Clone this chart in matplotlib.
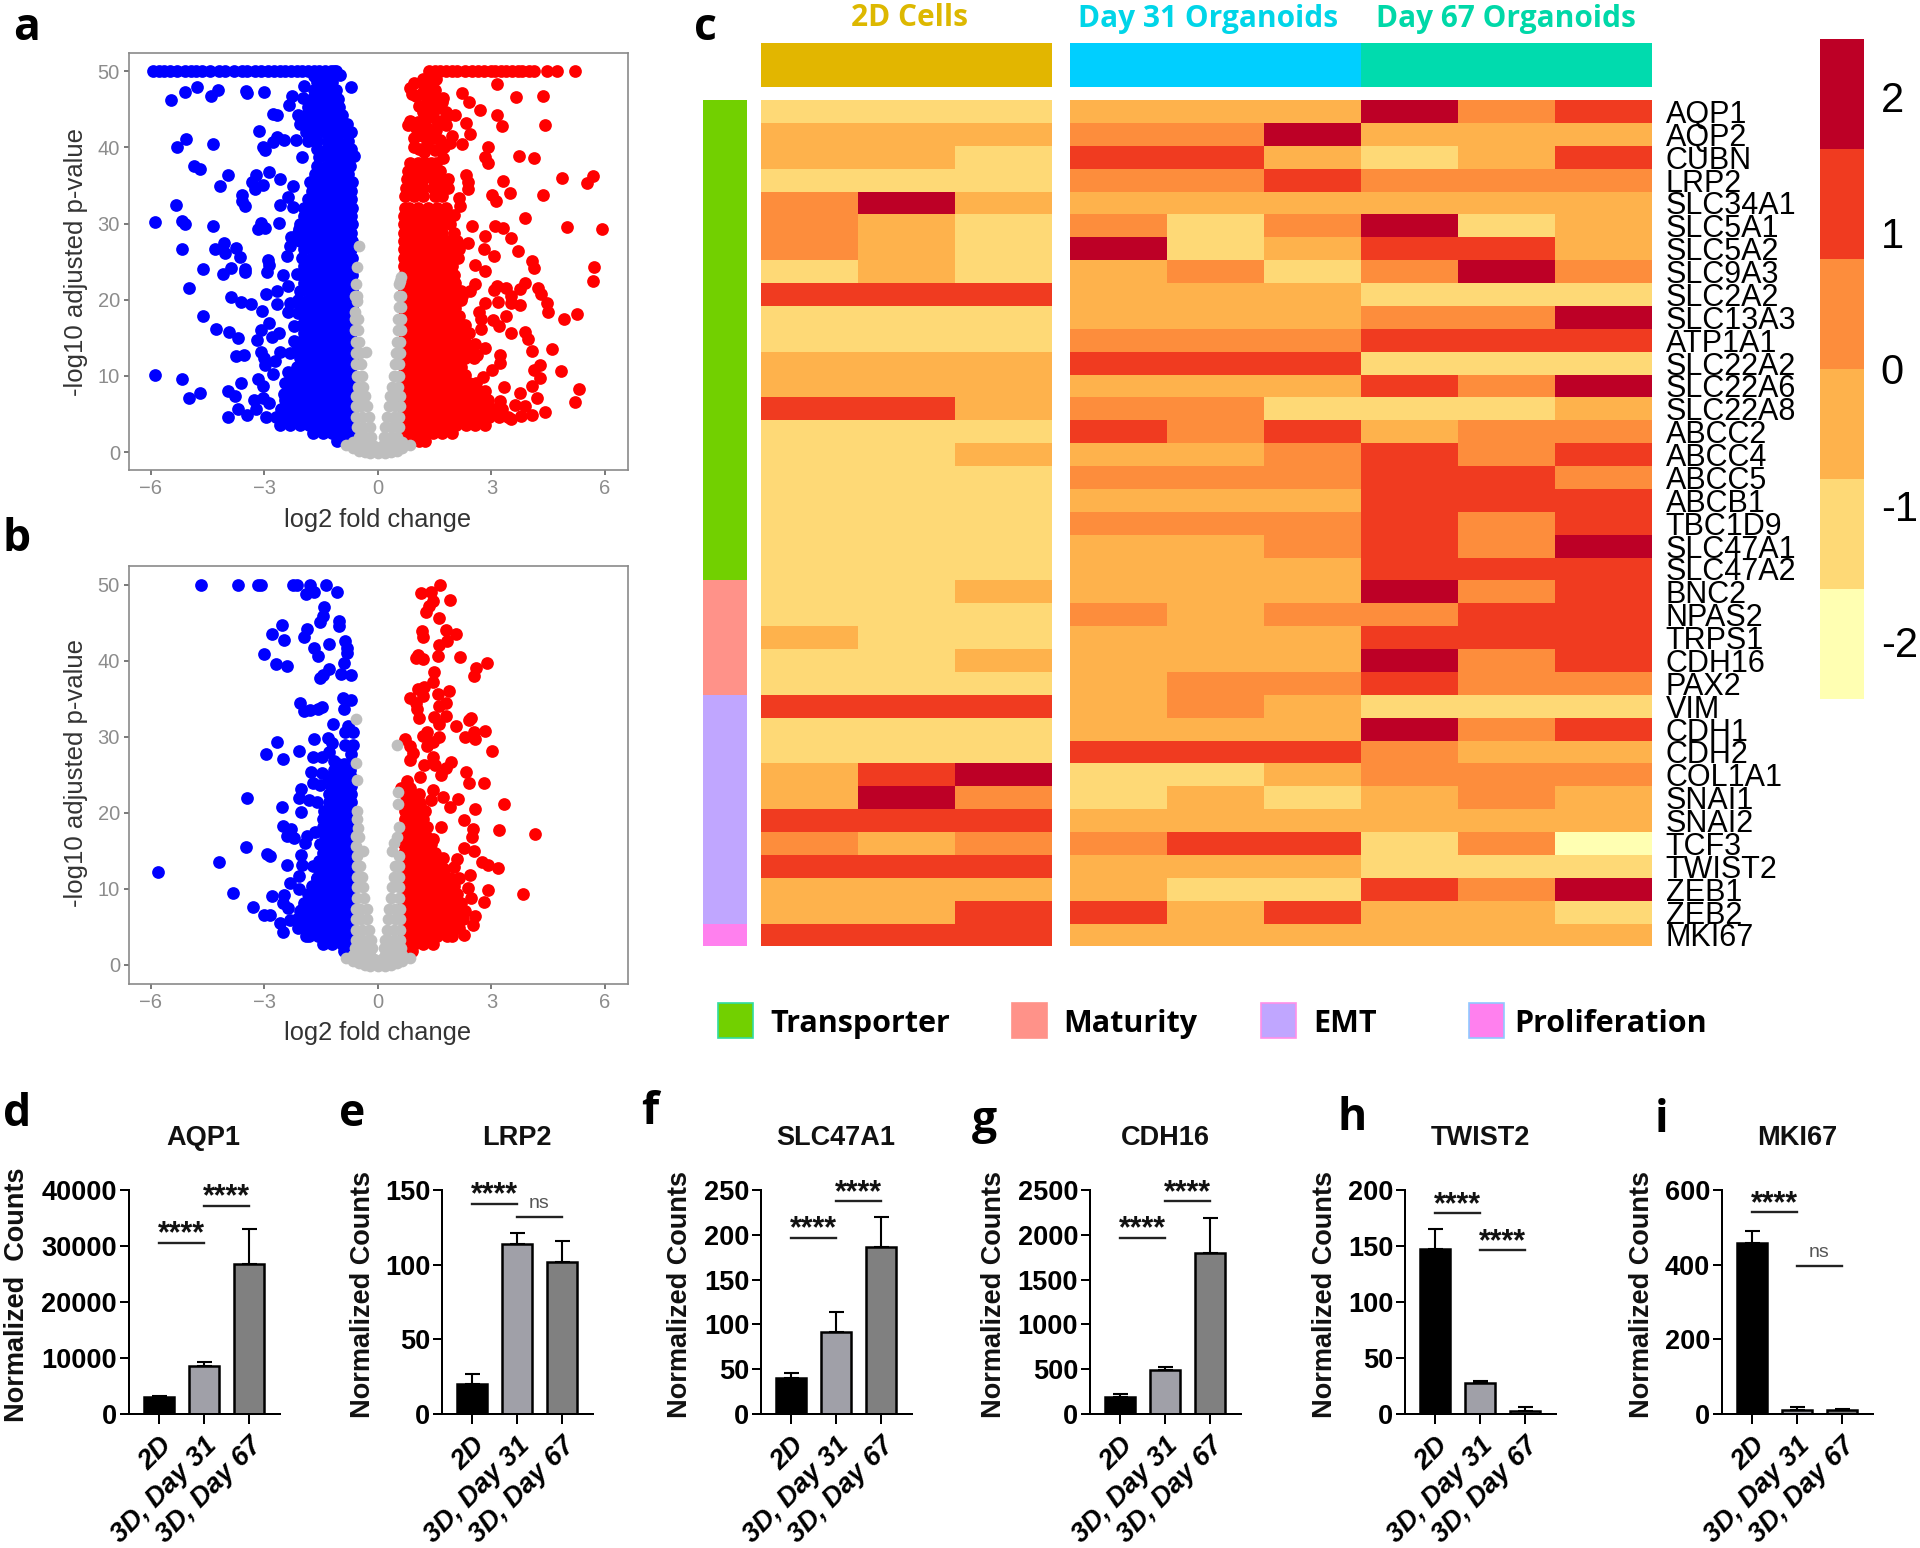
import numpy as np
import matplotlib
matplotlib.use("Agg")
import matplotlib.pyplot as plt
from matplotlib.colors import ListedColormap, BoundaryNorm
from matplotlib.cm import ScalarMappable
from matplotlib.patches import Rectangle

W, H = 1920, 1548
SANS = "Liberation Sans"
UI = "Open Sans"

# ---------------- volcano a ----------------
a_blue_top = [-5.95,-5.8,-5.65,-5.5,-5.3,-5.1,-4.95,-4.8,-4.65,-4.45,-4.2,-4.05,-3.8,-3.6,-3.45,-3.25,-3.1,-2.9,-2.75,-2.6,-2.45,-2.3,-2.15,-2.0,-1.85,-1.7,-1.55,-1.4,-1.25,-1.15,-1.1]
a_red_top = [1.35,1.5,1.65,1.8,1.95,2.1,2.3,2.5,2.65,2.8,3.0,3.1,3.25,3.4,3.55,3.7,3.8,3.99,4.14,4.46,4.73,5.21]
a_blue_x = [-1.0,-5.88,-5.88,-5.47,-5.09,-4.79,-4.42,-4.24,-3.49,-3.46,-3.01,-2.27,-2.36,-1.99,-1.94,-.71,-2.77,-2.66,-3.14,-3.04,-2.99,-2.77,-2.68,-2.49,-2.16,-2.01,-.63,-5.07,-5.31,-4.36,-4.87,-4.69,-3.97,-4.17,-5.34,-5.17,-5.09,-4.36,-3.59,-3.6,-3.51,-3.23,-2.87,-3.32,-3.26,-3.04,-2.6,-2.24,-2.38,-2.6,-2.24,-2.61,-3.1,-3.18,-2.99,-2.08,-2.3,-2.32,-5.18,-4.06,-4.3,-4.04,-3.74,-3.64,-2.39,-2.9,-2.88,-2.92,-4.62,-3.88,-4.1,-3.5,-3.52,-2.52,-2.14,-5,-2.66,-2.97,-2.38,-3.88,-3.62,-3.36,-2.66,-2.32,-3.07,-4.62,-2.38,-2.12,-2.21,-2.88,-3.1,-4.29,-3.93,-3.71,-3.19,-2.61,-2.79,-2.21,-3.08,-3.74,-3.54,-3.01,-2.6,-2.32,-2.99,-2.71,-2.37,-5.17,-3.61,-3.16,-3.04,-2.77,-2.37,-4.7,-5,-3.96,-3.79,-3.27,-3.04,-2.88,-2.49,-2.43,-3.7,-3.96,-3.46,-3.21]
a_blue_y = [49.5,30.2,10.1,46.2,47.3,48,46.8,47.5,47.4,47.1,47.3,46.8,45.6,46.5,48.1,48,44.4,44.2,42.1,40.1,39.7,40.7,41.4,41,41,38.7,38.9,41.1,40,40.4,37.5,37.2,36.4,35,32.4,30.4,30,29.7,33.7,33,32.3,36.4,36.8,35.4,34.6,35.1,35.9,34.9,33.5,32.5,32.2,30.1,30.1,29.3,29.4,29.3,28.3,27.1,26.6,27.5,26.6,26.2,26.8,25.6,25.7,25.2,24.5,23.7,24,24.2,23.4,24.1,23.6,23.2,23.4,21.6,21.2,20.7,21.8,20.4,19.7,19.5,19.4,19.6,18.5,17.9,18.4,18.2,16.6,16.9,16,16.1,15.8,15,14.7,15.6,15.1,14.6,13.2,12.6,12.7,12.3,13.2,13,11.4,11.9,10.5,9.6,9.1,9.6,8.7,10.3,9.2,7.8,7.1,8,7.4,6.8,7.1,6.5,7.6,6.5,5.7,4.6,4.9,5.6]
a_red_x = [3.14,.96,1.18,.84,1.01,1.34,2.23,2.4,3.64,4.37,1.73,1.57,2.7,3.16,1.18,1.46,1.79,2.03,4.42,3.27,.84,.79,1.07,1.57,1.81,2.34,2.43,1.96,1.12,1.46,.96,1.92,2.23,2.9,1.21,2.84,2.9,3.73,4.12,1.73,4.88,5.7,5.52,2.34,2.37,2.37,3.3,3.01,3.12,3.49,4.36,2.14,2.18,3.9,2,5.01,5.93,2.5,3.09,3.31,2.84,3.53,2.38,2.81,3.71,3.07,4.07,2.12,2.57,2.84,4.12,5.71,5.7,3.88,2.57,3.16,3.38,3.07,3.76,4.23,4.32,2.23,3.51,2.43,4.48,2.84,3.18,3.76,3.51,4.49,5.27,4.93,2.68,2.73,3.04,3.4,3.2,2.73,3.51,3.9,3.96,4.07,4.6,3.23,2.84,2.57,2.62,3.23,4.29,4.12,4.84,4.29,3.01,2.79,2.51,4.07,5.31,3.34,2.84,3.76,4.21,5.2,3.62,3.9,3.23,4.42,4.07,3.79,3.51,3.29,.9,1.15,1.3,1.5,1.1,1.35,1.6,1.45,1.7,1.25,1.0,1.3,1.55,1.2,.95,1.65,1.3,1.1,1.5,1.75,1.4,1.55,1.35,1.2,1.45,1.25,1.8,1.7]
a_red_y = [48.3,48.5,48.3,47.8,46.7,47.4,47.2,46,46.6,46.8,46.5,46,44.9,44.2,44.7,44.9,44.7,44.2,43,42.8,43.5,42.9,43.3,43.5,42.9,43.2,41.7,41.5,42,41.3,40.1,40.6,40.4,40.1,39.4,38.8,37.9,38.9,38.6,38.6,36,36.3,35.3,36.4,35.4,34.5,35.6,33.7,32.9,34,33.7,33.4,32.3,30.7,31.1,29.5,29.3,29.7,29.7,29.4,28.4,28.1,27.5,26.6,26.4,25.8,25.1,25.5,24.5,23.8,24.2,24.3,22.4,22.2,22.1,21.8,21.6,21.3,21.4,21.5,20.8,20.5,20.5,21.2,19.6,19.6,19.7,19.3,19.6,18.4,18.1,17.5,18.4,17.5,17.3,17.8,16.6,16.1,15.6,15.7,14.8,13.3,13.5,12.8,13.7,14.2,12.8,11.7,11.4,10.8,10.6,9.7,10.8,9.9,8.5,8.7,8.3,8.5,8,7.8,7.1,6.6,6.2,6,6.7,5.2,4.9,4.7,4.4,5.6,47,47,46,47.5,45.5,45,45.2,44,43.5,43.6,42.5,42.6,42.3,41.5,41.3,41,40.5,39.8,39.6,40,48.5,49,49.3,49,47,48.5,44,46]

# dense clouds, read row by row: (y, [x, x, ...])
a_blue_core = [
 (1.5,[-.9,-1.08]),
 (2.5,[-.76,-.95,-1.2,-1.45,-1.72]),
 (3.5,[-.72,-.82,-1.07,-1.32,-1.57,-1.82,-2.07,-2.32,-2.6]),
 (4.6,[-.7,-.95,-1.2,-1.45,-1.7,-1.95,-2.2,-2.45,-2.7,-2.95]),
 (5.7,[-.68,-.82,-1.07,-1.32,-1.57,-1.82,-2.07,-2.32,-2.57]),
 (6.8,[-.7,-.95,-1.2,-1.45,-1.7,-1.95,-2.2,-2.45]),
 (7.9,[-.68,-.82,-1.07,-1.32,-1.57,-1.82,-2.07,-2.32]),
 (9.0,[-.7,-.95,-1.2,-1.45,-1.7,-1.95,-2.2,-2.45]),
 (10.1,[-.68,-.82,-1.07,-1.32,-1.57,-1.82,-2.0,-2.25]),
 (11.2,[-.7,-.95,-1.2,-1.45,-1.7,-1.9,-2.15]),
 (12.3,[-.68,-.82,-1.07,-1.32,-1.57,-1.82,-2.07]),
 (13.4,[-.7,-.95,-1.2,-1.45,-1.7,-1.9,-2.15]),
 (14.5,[-.68,-.82,-1.07,-1.32,-1.57,-1.82,-2.07]),
 (15.6,[-.7,-.95,-1.2,-1.45,-1.7,-1.95]),
 (16.7,[-.68,-.82,-1.07,-1.32,-1.57,-1.78,-2.0]),
 (17.8,[-.7,-.95,-1.2,-1.45,-1.7,-1.95]),
 (18.9,[-.68,-.82,-1.07,-1.32,-1.57,-1.8,-2.05]),
 (20.0,[-.7,-.95,-1.2,-1.45,-1.7,-1.85,-2.1]),
 (21.1,[-.68,-.82,-1.07,-1.32,-1.57,-1.8,-2.05]),
 (22.2,[-.7,-.95,-1.2,-1.45,-1.7,-1.95]),
 (23.3,[-.68,-.82,-1.07,-1.32,-1.57,-1.8,-2.0]),
 (24.4,[-.7,-.95,-1.2,-1.45,-1.7,-1.95]),
 (25.5,[-.68,-.82,-1.07,-1.32,-1.57,-1.75,-2.0]),
 (26.6,[-.7,-.95,-1.2,-1.45,-1.7,-1.95]),
 (27.7,[-.68,-.82,-1.07,-1.32,-1.57,-1.8,-2.05]),
 (28.8,[-.7,-.95,-1.2,-1.45,-1.7,-1.85,-2.1]),
 (29.9,[-.68,-.82,-1.07,-1.32,-1.57,-1.8,-2.05]),
 (31.0,[-.7,-.95,-1.2,-1.45,-1.7,-1.95]),
 (32.1,[-.68,-.82,-1.07,-1.32,-1.57,-1.75,-1.95]),
 (33.2,[-.7,-.95,-1.2,-1.45,-1.65,-1.85]),
 (34.3,[-.72,-.82,-1.07,-1.32,-1.5,-1.75]),
 (35.4,[-.68,-.95,-1.2,-1.45,-1.6,-1.8]),
 (36.5,[-.78,-1.07,-1.32,-1.45,-1.65]),
 (37.6,[-.75,-.95,-1.2,-1.35,-1.6]),
 (38.7,[-.78,-1.07,-1.3,-1.55]),
 (39.8,[-.7,-.95,-1.2,-1.35,-1.6]),
 (40.9,[-.8,-1.07,-1.32,-1.6,-1.85]),
 (42.0,[-.72,-.95,-1.2,-1.4,-1.65,-1.9]),
 (43.1,[-.82,-1.07,-1.32,-1.55,-1.8,-2.05]),
 (44.2,[-.95,-1.2,-1.45,-1.7,-1.9,-2.1]),
 (45.3,[-1.02,-1.25,-1.45,-1.65,-1.85]),
 (46.4,[-1.05,-1.3,-1.5,-1.75]),
 (47.5,[-1.12,-1.35,-1.55,-1.7]),
 (48.6,[-1.2,-1.4,-1.6]),
 (49.4,[-1.3,-1.55,-1.7]),
]
a_red_core = [
 (1.5,[.72,.9,1.1,1.25]),
 (2.5,[.7,.95,1.2,1.45,1.7,1.95]),
 (3.5,[.68,.82,1.07,1.32,1.57,1.82,2.07,2.32,2.57,2.82]),
 (4.6,[.7,.95,1.2,1.45,1.7,1.95,2.2,2.45,2.7,2.95,3.2,3.45]),
 (5.7,[.68,.82,1.07,1.32,1.57,1.82,2.07,2.32,2.57,2.82,3.07]),
 (6.8,[.7,.95,1.2,1.45,1.7,1.95,2.2,2.45,2.7,2.9]),
 (7.9,[.68,.82,1.07,1.32,1.57,1.82,2.07,2.32,2.55,2.75]),
 (9.0,[.7,.95,1.2,1.45,1.7,1.95,2.2,2.4,2.6]),
 (10.1,[.68,.82,1.07,1.32,1.57,1.82,2.05,2.3]),
 (11.2,[.7,.95,1.2,1.45,1.7,1.95,2.2]),
 (12.3,[.68,.82,1.07,1.32,1.57,1.82,2.07,2.3,2.55]),
 (13.4,[.7,.95,1.2,1.45,1.7,1.95,2.2,2.45]),
 (14.5,[.68,.82,1.07,1.32,1.57,1.82,2.07,2.3]),
 (15.6,[.7,.95,1.2,1.45,1.7,1.95,2.15,2.4]),
 (16.7,[.68,.82,1.07,1.32,1.57,1.82,2.0,2.3]),
 (17.8,[.7,.95,1.2,1.45,1.7,1.9,2.15]),
 (18.9,[.68,.82,1.07,1.32,1.57,1.8,2.05]),
 (20.0,[.7,.95,1.2,1.45,1.7,1.95,2.2]),
 (21.1,[.68,.82,1.07,1.32,1.57,1.82,2.0,2.2]),
 (22.2,[.7,.95,1.2,1.45,1.7,1.9,2.05]),
 (23.3,[.68,.82,1.07,1.32,1.57,1.8,2.0]),
 (24.4,[.7,.95,1.2,1.45,1.7,1.95]),
 (25.5,[.68,.82,1.07,1.32,1.57,1.8,2.05]),
 (26.6,[.7,.95,1.2,1.45,1.7,1.9,2.15]),
 (27.7,[.68,.82,1.07,1.32,1.57,1.85,2.1]),
 (28.8,[.7,.95,1.2,1.45,1.7,2.0]),
 (29.9,[.68,.82,1.07,1.32,1.57,1.7,1.9]),
 (31.0,[.7,.95,1.2,1.45,1.65,1.85]),
 (32.1,[.72,.82,1.07,1.32,1.57,1.8]),
 (33.6,[.72,.95,1.2,1.5,1.7]),
 (34.7,[.75,.95,1.2,1.45,1.65,1.85]),
 (35.8,[.78,1.0,1.2,1.45,1.65,1.85]),
 (36.9,[.8,1.0,1.2,1.4,1.65]),
 (38.0,[.85,1.05,1.25,1.4,1.55]),
]
a_gray_x = [-.85,-.65,-.5,-.35,-.2,0,.2,.35,.5,.65,.85,-.15,0,.15,-.5,-.35,-.2,-.1,.1,.2,.35,.5,-.65,-.5,-.35,-.2,.2,.35,.5,.65,-.5,-.35,-.17,.17,.35,.5,-.55,-.38,-.2,.2,.38,.55,-.57,-.42,-.24,.24,.42,.57,-.58,-.45,-.3,.3,.45,.58,-.58,-.47,-.33,.33,.47,.58,-.52,-.38,.38,.52,-.55,-.42,.42,.55,-.57,-.45,.45,.57,-.58,-.48,-.32,.48,.58,-.58,-.5,.5,.58,-.6,-.52,.52,.6,-.6,-.52,.52,.6,-.6,-.55,.55,.6,-.6,-.55,.55,.6,-.58,.56,.6,-.54,.58,-.49]
a_gray_y = [.9,.5,.2,0,-.1,-.1,-.1,0,.2,.5,.9,.3,.3,.3,.8,.8,.8,.8,.8,.8,.8,.8,1.3,1.3,1.3,1.3,1.3,1.3,1.3,1.3,2,2,2,2,2,2,3.3,3.3,3.3,3.3,3.3,3.3,4.6,4.6,4.6,4.6,4.6,4.6,6,6,6,6,6,6,7.3,7.3,7.3,7.3,7.3,7.3,8.6,8.6,8.6,8.6,10,10,10,10,11.5,11.5,11.5,11.5,13,13,13.2,13,13,14.5,14.5,14.5,14.5,16,16,16,16,17.5,17.5,17.5,17.5,18.4,19.8,19,19,20.5,20.5,20.5,20.5,22,22,23,24.3,22.5,27]

# ---------------- volcano b ----------------
b_blue_x = [-4.67,-3.7,-3.17,-3.08,-2.24,-2.13,-1.8,-1.37,-1.91,-1.68,-1.09,-1.43,-1.46,-1.54,-1.04,-1.02,-2.53,-2.79,-1.88,-1.94,-2.47,-.88,-1.29,-.82,-.82,-1.69,-1.58,-3,-2.69,-2.39,-.9,-1.29,-1.46,-1.54,-.97,-.71,-.93,-.71,-2.06,-1.94,-1.8,-1.58,-1.47,-.9,-1.19,-.79,-.66,-.88,-1.32,-1.68,-2.66,-1.21,-.88,-.66,-2.08,-2.97,-1.71,-1.49,-1.3,-.71,-2.52,-1.16,-1.77,-1.47,-1.32,-1.71,-1.54,-3.46,-2.02,-2.08,-1.82,-1.6,-2.54,-2.04,-1.43,-1.21,-2.52,-2.3,-2.41,-2.21,-1.88,-1.93,-1.66,-1.52,-3.49,-2.93,-2.86,-2.04,-4.19,-2.4,-2.01,-1.71,-5.82,-2.08,-1.62,-2.32,-2.08,-3.82,-2.79,-2.47,-2.52,-3.29,-3.02,-2.84,-2.38,-2.04,-2.58,-2.52,-2.32]
b_blue_y = [50,50,50,50,50,50,50,50,48.8,49.1,49.1,47.1,45.9,45.1,45.3,44.6,44.8,43.5,44.2,43.2,42.8,42.6,42.2,41.7,41.1,41.7,40.7,40.9,39.6,39.3,39.7,38.9,38.1,37.8,38.3,38.1,35.1,34.9,34.5,33.4,33.5,33.7,34,33.7,31.7,31.5,30.6,30.6,29.9,29.7,29.3,29.2,29,28.9,28.1,27.8,27.4,27.4,28,27.7,27.1,26.9,25.4,25.3,24.8,23.9,23.7,22,23.2,22,21.7,21.4,20.8,20.1,20.3,22.3,18.3,17.9,17,16.7,17,16.1,17.5,15.9,15.5,14.6,14.3,14.5,13.6,13.2,13.2,13,12.3,11.7,11.5,10.8,10,9.5,9.1,9.2,8.1,7.6,6.6,6.6,7.5,7.2,5.5,4.4,5.9]
b_red_x = [1.63,1.14,1.4,1.9,1.46,1.34,1.27,1.62,1.79,1.16,1.18,2.07,1.84,1.62,1.6,1.07,1.01,1.18,2.16,2.88,2.59,2.53,1.49,1.46,1.23,1.07,1.88,1.6,.84,1.18,1.01,1.81,1.62,1.03,1.09,1.49,1.79,1.62,2.46,2.4,2.07,2.84,2.53,2.31,2.57,1.29,1.18,1.62,1.46,.71,.84,1.29,3.03,.92,.84,1.46,1.93,1.23,1.51,1.79,2.34,1.12,1.68,2.4,2.81,.76,.62,1.46,2.12,3.34,2.57,1.9,2.27,1.68,2.51,3.2,4.16,2.48,2.29,2.53,2.09,1.73,2.76,2.9,3.18,2.01,2.43,2.14,3.84,2.92,2.38,2.46,2.81,2.57,2.51,2.29,2.18,1.12,1.4,1.73,.84,1.12,1.23,1.46]
b_red_y = [50,49,49.1,48,47.9,47.3,46.4,45.6,44.1,43.9,43.1,43.5,42.6,42.1,40.7,40.8,40.4,40.2,40.5,39.7,39.1,38,38.5,37.2,36.6,36.3,36,35.7,35.1,35.4,34.5,34.5,34.1,33.7,32.5,32.6,32.8,31.7,32.5,32.2,31.4,30.8,30.7,30,29.8,30.7,30.1,30,29.4,29.7,28.8,28.8,28.1,27.9,27,27.4,26.7,26.3,26.3,25.9,25.4,24.8,25,23.9,23.9,24.2,23.3,23,21.8,21.2,20.5,20.8,19.1,18.1,17.9,17.8,17.2,16.9,15.4,15,14,14.1,13.5,13.2,12.8,12.9,11.8,11.5,9.4,9.9,10.1,8.8,8.3,6.4,5.3,4,7.5,21.2,21.7,22.1,20.8,19.4,18.1,16.6]
b_blue_core = [
 (1.8,[-.72,-.9]),
 (2.8,[-.72,-.95,-1.2,-1.45]),
 (3.8,[-.7,-.82,-1.07,-1.32,-1.57,-1.82,-1.9]),
 (4.9,[-.7,-.95,-1.2,-1.45,-1.7,-1.95,-2.1]),
 (6.0,[-.7,-.82,-1.07,-1.32,-1.57,-1.82,-1.95,-2.15]),
 (7.1,[-.7,-.95,-1.2,-1.45,-1.7,-1.85,-2.05]),
 (8.2,[-.7,-.82,-1.07,-1.32,-1.57,-1.75,-1.95]),
 (9.3,[-.7,-.95,-1.2,-1.45,-1.65,-1.85]),
 (10.4,[-.7,-.82,-1.07,-1.32,-1.55,-1.75]),
 (11.5,[-.7,-.95,-1.2,-1.42,-1.62]),
 (12.6,[-.7,-.82,-1.07,-1.32,-1.55]),
 (13.7,[-.7,-.95,-1.2,-1.35,-1.55]),
 (14.8,[-.7,-.82,-1.07,-1.28,-1.45]),
 (15.9,[-.7,-.95,-1.2,-1.4]),
 (17.0,[-.7,-.82,-1.07,-1.22,-1.4]),
 (18.1,[-.7,-.95,-1.2,-1.3,-1.45]),
 (19.2,[-.7,-.82,-1.07,-1.28,-1.45]),
 (20.3,[-.72,-.95,-1.15,-1.35]),
 (21.4,[-.72,-.9,-1.1,-1.3]),
 (22.5,[-.72,-.95,-1.1,-1.3]),
 (23.6,[-.72,-.85,-1.05,-1.25]),
 (24.7,[-.72,-.9,-1.05,-1.25]),
 (25.6,[-.75,-.95,-1.15]),
 (26.4,[-.78,-.9,-1.05]),
]
b_red_core = [
 (1.8,[.72,.9]),
 (2.8,[.72,.95,1.2,1.45]),
 (3.8,[.7,.82,1.07,1.32,1.57,1.82,1.95]),
 (4.9,[.7,.95,1.2,1.45,1.7,1.95,2.15]),
 (6.0,[.7,.82,1.07,1.32,1.57,1.82,2.07,2.25]),
 (7.1,[.7,.95,1.2,1.45,1.7,1.95,2.1,2.3]),
 (8.2,[.7,.82,1.07,1.32,1.57,1.82,2.0,2.2]),
 (9.3,[.7,.95,1.2,1.45,1.7,1.9,2.1]),
 (10.4,[.7,.82,1.07,1.32,1.57,1.82,2.0]),
 (11.5,[.7,.95,1.2,1.45,1.7,1.9]),
 (12.6,[.7,.82,1.07,1.32,1.55,1.75]),
 (13.7,[.7,.95,1.2,1.4,1.6]),
 (14.8,[.7,.82,1.07,1.3,1.5]),
 (15.9,[.7,.95,1.2,1.4]),
 (17.0,[.7,.82,1.07,1.27]),
 (18.1,[.7,.95,1.12,1.3]),
 (19.2,[.72,.82,.98,1.2]),
 (20.3,[.72,.95,1.05,1.25]),
 (21.4,[.75,.9,1.1]),
 (22.5,[.72,.9,1.1]),
 (23.3,[.85]),
]
b_gray_x = [-.85,-.65,-.5,-.35,-.2,0,.2,.35,.5,.65,.85,-.15,0,.15,-.5,-.35,-.2,-.1,.1,.2,.35,.5,-.65,-.5,-.35,-.2,.2,.35,.5,.65,-.6,-.45,-.3,-.15,.15,.3,.45,.6,-.58,-.42,-.26,-.18,.18,.26,.42,.58,-.58,-.42,-.24,.24,.42,.58,-.58,-.44,-.28,.28,.44,.58,-.58,-.46,-.3,.3,.46,.58,-.56,-.36,.36,.56,-.56,-.38,.38,.56,-.56,-.42,.42,.56,-.55,-.46,.46,.55,-.55,-.38,.38,.55,-.58,.51,.43,-.49,-.57,.57,-.54,-.54,.54,.54,-.54,-.57,.51,-.58,-.52]
b_gray_y = [.9,.5,.2,0,-.1,-.1,-.1,0,.2,.5,.9,.3,.3,.3,.8,.8,.8,.8,.8,.8,.8,.8,1.3,1.3,1.3,1.3,1.3,1.3,1.3,1.3,2.2,2.2,2.2,2.2,2.2,2.2,2.2,2.2,3.3,3.3,3.3,3.3,3.3,3.3,3.3,3.3,4.6,4.6,4.6,4.6,4.6,4.6,6,6,6,6,6,6,7.4,7.4,7.4,7.4,7.4,7.4,8.8,8.8,8.8,8.8,10.2,10.2,10.2,10.2,11.6,11.6,11.6,11.6,13,13,13,13,14.4,15,15,14.4,32.4,28.9,16,16.8,17,18.1,19.2,20.3,21.2,22.8,24.3,26.6,16.8,15.6,18]

# ---------------- heat map ----------------
genes = ["AQP1","AQP2","CUBN","LRP2","SLC34A1","SLC5A1","SLC5A2","SLC9A3","SLC2A2","SLC13A3","ATP1A1","SLC22A2","SLC22A6","SLC22A8","ABCC2","ABCC4","ABCC5","ABCB1","TBC1D9","SLC47A1","SLC47A2","BNC2","NPAS2","TRPS1","CDH16","PAX2","VIM","CDH1","CDH2","COL1A1","SNAI1","SNAI2","TCF3","TWIST2","ZEB1","ZEB2","MKI67"]
heat_2d = [[1,1,1],[2,2,2],[2,2,1],[1,1,1],[3,5,2],[3,2,1],[3,2,1],[1,2,1],[4,4,4],[1,1,1],[1,1,1],[2,2,2],[2,2,2],[4,4,2],[1,1,1],[1,1,2],[1,1,1],[1,1,1],[1,1,1],[1,1,1],[1,1,1],[1,1,2],[1,1,1],[2,1,1],[1,1,2],[1,1,1],[4,4,4],[1,1,1],[1,1,1],[2,4,5],[2,5,3],[4,4,4],[3,2,3],[4,4,4],[2,2,2],[2,2,4],[4,4,4]]
heat_d31 = [[2,2,2],[3,3,5],[4,4,2],[3,3,4],[2,2,2],[3,1,3],[5,1,2],[2,3,1],[2,2,2],[2,2,2],[3,3,3],[4,4,4],[2,2,2],[3,3,1],[4,3,4],[2,2,3],[3,3,3],[2,2,2],[3,3,3],[2,2,3],[2,2,2],[2,2,2],[3,2,3],[2,2,2],[2,2,2],[2,3,3],[2,3,2],[2,2,2],[4,4,4],[1,1,2],[1,2,1],[2,2,2],[3,4,4],[2,2,2],[2,1,1],[4,2,4],[2,2,2]]
heat_d67 = [[5,3,4],[2,2,2],[1,2,4],[3,3,3],[2,2,2],[5,1,2],[4,4,2],[3,5,3],[1,1,1],[3,3,5],[4,4,4],[1,1,1],[4,3,5],[1,1,2],[2,3,3],[4,3,4],[4,4,3],[4,4,4],[4,3,4],[4,3,5],[4,4,4],[5,3,4],[3,4,4],[4,4,4],[5,3,4],[4,3,3],[1,1,1],[5,3,4],[3,2,2],[3,3,3],[2,3,2],[2,2,2],[1,3,0],[1,1,1],[4,3,5],[2,2,1],[2,2,2]]
level_z = [-2.0,-1.2,-0.4,0.4,1.2,2.1]
bin_edges = [-2.42,-1.61,-0.81,0,0.81,1.61,2.42]
bin_colors = ["#FFFFB2","#FED976","#FEB24C","#FD8D3C","#F03B20","#BD0026"]
cbar_ticks = [-2,-1,0,1,2]

gene_group_names = ["Transporter","Maturity","EMT","Proliferation"]
gene_group_sizes = [21,5,10,1]
gene_group_colors = ["#72D000","#FF9289","#C0A6FF","#FF80EE"]
legend_edges = ["#30DCA0","#FF9289","#FF90E8","#90C8FF"]
sample_groups = ["2D Cells","Day 31 Organoids","Day 67 Organoids"]
sample_colors = ["#E2B600","#00CFFF","#00DBAE"]
sample_text_colors = ["#DDB800","#00D5E8","#00D8A8"]

# ---------------- bar panels ----------------
bar_categories = ["2D","3D, Day 31","3D, Day 67"]
bar_colors = ["#000000","#A0A0A8","#808080"]
bar_titles = ["AQP1","LRP2","SLC47A1","CDH16","TWIST2","MKI67"]
bar_letters = ["d","e","f","g","h","i"]
bar_values = [[3000,8600,26700],[20,114,102],[40,92,186],[185,490,1800],[147,28,3],[457,10,10]]
bar_tops = [[3200,9300,33000],[27,121,116],[46,114,220],[220,520,2190],[165,29.5,6],[490,20,14]]
bar_ymax = [40000,150,250,2500,200,600]
bar_steps = [10000,50,50,500,50,200]
bar_ylabels = ["Normalized  Counts","Normalized Counts","Normalized Counts","Normalized Counts","Normalized Counts","Normalized Counts"]
sig_levels = [[30590,37200],[140.8,131.7],[196.8,237.7],[1968,2377],[179.5,146],[541,396]]
sig_texts = [["****","****"],["****","ns"],["****","****"],["****","****"],["****","****"],["****","ns"]]

# ---------- layout (pixels) ----------
bar_spine_px = [128.6,442,761,1090,1405,1722]
bar_ylabel_px = [17,363,680,994,1324.5,1642]
bar_letter_px = [(17,1115),(352,1115),(650,1112),(984.5,1122),(1352,1119),(1662,1120)]

fig = plt.figure(figsize=(W/100, H/100), dpi=100, facecolor="white")
plt.rcParams["font.family"] = SANS


def px_axes(left, top, right, bottom):
    return fig.add_axes([left/W, 1-bottom/H, (right-left)/W, (bottom-top)/H])


def ptxt(x, y, s, **kw):
    kw.setdefault("ha", "center")
    kw.setdefault("va", "center")
    return fig.text(x/W, 1-y/H, s, **kw)


def flatten(rows):
    xs, ys = [], []
    for y, row in rows:
        xs += row
        ys += [y]*len(row)
    return xs, ys


def volcano(box, ylim, bx, by, rx, ry, gx, gy, lab_y, ylab_y):
    ax = px_axes(*box)
    s = 84
    ax.scatter(bx, by, s=s, color="#0000FF", linewidths=0, zorder=2)
    ax.scatter(rx, ry, s=s, color="#FF0000", linewidths=0, zorder=2)
    ax.scatter(gx, gy, s=s*0.85, color="#BEBEBE", linewidths=0, zorder=3)
    ax.set_xlim(-6.58, 6.6)
    ax.set_ylim(*ylim)
    ax.set_xticks([-6, -3, 0, 3, 6])
    ax.set_yticks([0, 10, 20, 30, 40, 50])
    ax.tick_params(length=3.5, width=1.1, color="#555555", labelcolor="#8C8C8C", labelsize=14.5, pad=3)
    for sp in ax.spines.values():
        sp.set_color("#8A8A8A")
        sp.set_linewidth(1.2)
    ptxt(378, lab_y, "log2 fold change", fontsize=18.3, color="#333333")
    ptxt(76.5, ylab_y, "-log10 adjusted p-value", fontsize=18.5, color="#333333", rotation=90)


bx0, by0 = flatten(a_blue_core)
rx0, ry0 = flatten(a_red_core)
volcano((129, 52.7, 627.5, 470), (-2.36, 52.44),
        a_blue_x + a_blue_top + bx0, a_blue_y + [50]*len(a_blue_top) + by0,
        a_red_x + a_red_top + rx0, a_red_y + [50]*len(a_red_top) + ry0,
        a_gray_x, a_gray_y, 520, 262)
bx1, by1 = flatten(b_blue_core)
rx1, ry1 = flatten(b_red_core)
volcano((129, 566, 627.5, 984), (-2.5, 52.5),
        b_blue_x + bx1, b_blue_y + by1, b_red_x + rx1, b_red_y + ry1,
        b_gray_x, b_gray_y, 1033, 773)

# heat map
cmap = ListedColormap(bin_colors)
norm = BoundaryNorm(bin_edges, cmap.N)
z = np.array(level_z)
HT, HB = 100, 946.4


def mesh(ax, data):
    ax.pcolormesh(data, cmap=cmap, norm=norm, edgecolors="none", rasterized=False)
    ax.set_ylim(data.shape[0], 0)
    ax.set_xticks([])
    ax.set_yticks([])
    for sp in ax.spines.values():
        sp.set_visible(False)


ax_l = px_axes(760.6, HT, 1052, HB)
mesh(ax_l, z[np.array(heat_2d)])
ax_r = px_axes(1070, HT, 1652.5, HB)
mesh(ax_r, z[np.hstack([np.array(heat_d31), np.array(heat_d67)])])
ax_r.yaxis.tick_right()
ax_r.set_yticks(np.arange(len(genes)) + 0.5)
ax_r.set_yticklabels(genes, fontsize=22, color="black")
ax_r.tick_params(axis="y", length=0, pad=9.5)

# row group bar
ax_g = px_axes(703, HT, 747, HB)
g_cmap = ListedColormap(gene_group_colors)
ax_g.pcolormesh(np.repeat(np.arange(4), gene_group_sizes)[:, None], cmap=g_cmap, vmin=-.5, vmax=3.5)
ax_g.set_ylim(sum(gene_group_sizes), 0)
ax_g.axis("off")

# column group bars
s_cmap = ListedColormap(sample_colors)
ax_t1 = px_axes(760.6, 43, 1052, 87)
ax_t1.pcolormesh(np.array([[0, 0, 0]]), cmap=s_cmap, vmin=-.5, vmax=2.5)
ax_t1.axis("off")
ax_t2 = px_axes(1070, 43, 1652.5, 87)
ax_t2.pcolormesh(np.array([[1, 1, 1, 2, 2, 2]]), cmap=s_cmap, vmin=-.5, vmax=2.5)
ax_t2.axis("off")
for xc, name, col in zip([909.6, 1208, 1506], sample_groups, sample_text_colors):
    ptxt(xc, 18.5, name, family=UI, fontweight="bold", fontsize=21.5, color=col)

# colour bar
cax = px_axes(1819.6, 39, 1864, 699)
cb = fig.colorbar(ScalarMappable(norm=norm, cmap=cmap), cax=cax, ticks=cbar_ticks, spacing="proportional")
cb.outline.set_visible(False)
cb.ax.minorticks_off()
cb.ax.tick_params(which="both", length=0, pad=12, labelsize=30)
cb.ax.set_yticklabels([str(t) for t in cbar_ticks], family=SANS)

# legend
leg_sq = [718, 1012, 1261, 1469]
leg_tx = [770, 1063, 1313, 1514]
for xs, xt, name, col, ec in zip(leg_sq, leg_tx, gene_group_names, gene_group_colors, legend_edges):
    fig.add_artist(Rectangle((xs/W, 1-1038/H), 35/W, 35/H, transform=fig.transFigure,
                             facecolor=col, edgecolor=ec, linewidth=1.2))
    ptxt(xt, 1024, name, ha="left", family=UI, fontweight="bold", fontsize=22, color="black")

# panel letters
for (x, y), s in zip([(27, 29), (17, 540), (705, 29)], "abc"):
    ptxt(x, y, s, family=UI, fontweight="bold", fontsize=32, color="black")

# bar panels
TOP, BASE = 1190, 1414
for i in range(6):
    spine = bar_spine_px[i]
    ax = px_axes(spine, TOP, spine + 151, BASE)
    ax.patch.set_alpha(0)
    xs = np.arange(3)
    vals = np.array(bar_values[i], float)
    tops = np.array(bar_tops[i], float)
    ax.errorbar(xs, vals, yerr=[np.zeros(3), tops - vals], fmt="none", ecolor="black",
                elinewidth=1.5, capsize=5.4, capthick=1.5, zorder=1, clip_on=False)
    ax.bar(xs, vals, width=0.667, color=bar_colors, edgecolor="black", linewidth=1.8, zorder=2)
    ax.set_xlim(-0.667, 2.69)
    ax.set_ylim(0, bar_ymax[i])
    ax.set_yticks(np.arange(0, bar_ymax[i] + 1, bar_steps[i]))
    ax.set_xticks(xs)
    ax.set_xticklabels(bar_categories, rotation=45, ha="right", va="top", rotation_mode="anchor",
                       fontsize=19.5, fontweight="bold", fontstyle="italic")
    ax.tick_params(axis="y", length=6.5, width=1.44, labelsize=19.5, pad=2)
    ax.tick_params(axis="x", length=7.2, width=1.44, pad=6)
    for lab in ax.get_yticklabels():
        lab.set_fontweight("bold")
    for side in ("top", "right"):
        ax.spines[side].set_visible(False)
    for side in ("left", "bottom"):
        ax.spines[side].set_linewidth(1.44)
    for j in range(2):
        yv = sig_levels[i][j]
        ax.plot([j, j + 1], [yv, yv], color="#222222", lw=1.7, clip_on=False, zorder=3)
        if sig_texts[i][j] == "ns":
            ax.annotate("ns", (j + .5, yv), xytext=(0, 4), textcoords="offset points", ha="center",
                        va="bottom", fontsize=14, color="#555555", annotation_clip=False)
        else:
            ax.annotate("****", (j + .5, yv), xytext=(0, -5), textcoords="offset points", ha="center",
                        va="bottom", fontsize=22, fontweight="bold", color="#111111", annotation_clip=False)
    ptxt(spine + 75, 1138, bar_titles[i], fontsize=19.5, fontweight="bold", color="#111111")
    ptxt(bar_ylabel_px[i], 1295, bar_ylabels[i], rotation=90, fontsize=19.5, fontweight="bold", color="#111111")
    lx, ly = bar_letter_px[i]
    ptxt(lx, ly, bar_letters[i], family=UI, fontweight="bold", fontsize=32, color="black")

fig.savefig("out.png", dpi=100, facecolor="white")
